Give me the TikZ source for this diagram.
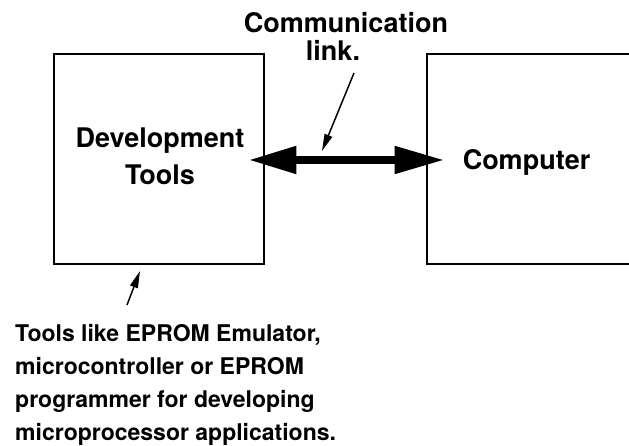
\documentclass[tikz,border=0pt]{standalone}
\usepackage{fontspec}
\setmainfont{TeX Gyre Heros}
\usetikzlibrary{arrows.meta}
\tikzset{
  box/.style={draw, line width=2.8pt, rectangle, inner sep=0pt, minimum height=210pt},
  lbl/.style={font=\bfseries\fontsize{27}{37}\selectfont, inner sep=0pt},
  note/.style={font=\bfseries\fontsize{23}{33}\selectfont, inner sep=0pt, align=left},
  link/.style={line width=8pt, {Triangle[length=48pt,width=26pt]}-{Triangle[length=50pt,width=26pt]}},
  pointer/.style={line width=1.5pt, -{Triangle[length=17pt,width=8pt]}}
}
\begin{document}
\begin{tikzpicture}[x=1pt,y=1pt]
\useasboundingbox (0,0) rectangle (629,446);
\fill[white] (0,0) rectangle (629,446);
% boxes
\node[box, minimum width=210pt] (dev) at (159,287) {};
\node[box, minimum width=216pt] (comp) at (535,287) {};
% labels
\node[lbl, align=center, anchor=base] (devtxt) at (160,261) {Development\\Tools};
\node[lbl, anchor=base] (comptxt) at (526.5,276) {Computer};
\node[lbl, anchor=base] (commtxt) at (346,413) {Communication};
\node[lbl, anchor=base] (linktxt) at (333,385) {link.};
\node[note, anchor=base west] (notetxt) at (15,5.5) {Tools like EPROM Emulator,\\microcontroller or EPROM\\programmer for developing\\microprocessor applications.};
% double arrow
\draw[link] ([xshift=-17pt]dev.east |- 0,286) -- ([xshift=19pt]comp.west |- 0,286);
% pointers
\coordinate (lp1) at (354,373);
\coordinate (lp2) at (322,295);
\draw[pointer] (lp1) -- (lp2);
\coordinate (bp1) at (127,141);
\coordinate (bp2) at (140,175);
\draw[pointer] (bp1) -- (bp2);
\end{tikzpicture}
\end{document}
